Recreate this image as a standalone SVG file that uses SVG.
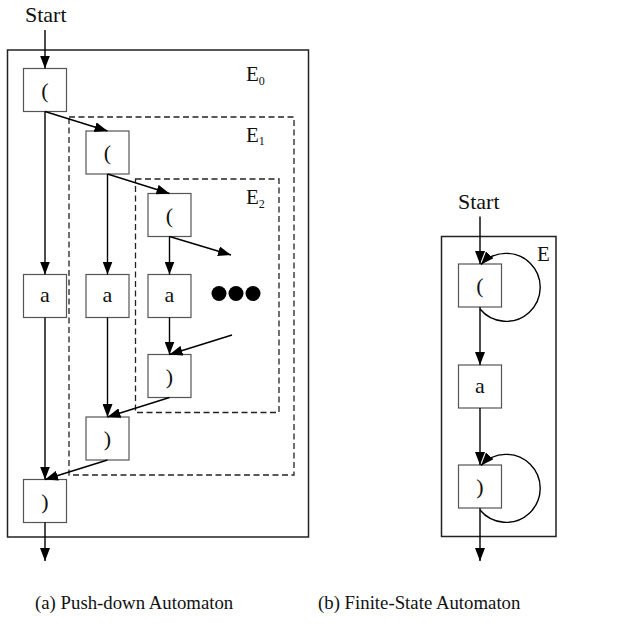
<svg xmlns="http://www.w3.org/2000/svg" width="621" height="625" viewBox="0 0 621 625">
<style>
  .frame{fill:none;stroke:#222;stroke-width:1.5}
  .dash{fill:none;stroke:#222;stroke-width:1.3;stroke-dasharray:6,3.5}
  .node{fill:#fff;stroke:#555;stroke-width:1.2}
  text{font-family:'Liberation Serif','DejaVu Serif',serif;fill:#111}
  .lbl{font-size:22px;text-anchor:middle}
  .edge{fill:none;stroke:#000;stroke-width:1.4}
</style>
<defs>
  <marker id="ah" markerUnits="userSpaceOnUse" markerWidth="14" markerHeight="10" refX="13" refY="5" orient="auto">
    <path d="M0,0 L13,5 L0,10 z" fill="#000"/>
  </marker>
</defs>
<rect width="621" height="625" fill="#fff"/>

<!-- (a) containers -->
<g id="E0">
  <rect class="frame" x="7.5" y="50" width="301" height="487"/>
  <text x="246" y="81" font-size="21">E<tspan font-size="12" dy="3.5">0</tspan></text>
</g>
<g id="E1">
  <rect class="dash" x="69" y="117" width="225" height="358"/>
  <text x="246" y="141.5" font-size="21">E<tspan font-size="12" dy="3.5">1</tspan></text>
</g>
<g id="E2">
  <rect class="dash" x="135.5" y="179" width="143.5" height="233.5"/>
  <text x="246" y="204" font-size="21">E<tspan font-size="12" dy="3.5">2</tspan></text>
</g>
<g id="start-a"><text x="25" y="22" font-size="22">Start</text></g>

<!-- (a) nodes -->
<g id="n1"><rect class="node" x="23.5" y="68.5" width="43" height="43"/><text class="lbl" x="45" y="97.5">(</text></g>
<g id="n2"><rect class="node" x="86" y="131" width="43" height="43"/><text class="lbl" x="107.5" y="160">(</text></g>
<g id="n3"><rect class="node" x="148" y="193.5" width="43" height="43"/><text class="lbl" x="169.5" y="222.5">(</text></g>
<g id="a1"><rect class="node" x="23.5" y="274.5" width="43" height="43"/><text class="lbl" x="45" y="302">a</text></g>
<g id="a2"><rect class="node" x="86" y="274.5" width="43" height="43"/><text class="lbl" x="107.5" y="302">a</text></g>
<g id="a3"><rect class="node" x="148" y="274.5" width="43" height="43"/><text class="lbl" x="169.5" y="302">a</text></g>
<g id="c3"><rect class="node" x="148" y="354.5" width="43" height="43"/><text class="lbl" x="169.5" y="383.5">)</text></g>
<g id="c2"><rect class="node" x="86" y="417" width="43" height="43"/><text class="lbl" x="107.5" y="446">)</text></g>
<g id="c1"><rect class="node" x="23.5" y="479.5" width="43" height="43"/><text class="lbl" x="45" y="508.5">)</text></g>
<g id="dots">
  <circle cx="219" cy="293.5" r="7.5" fill="#000"/>
  <circle cx="236" cy="293.5" r="7.5" fill="#000"/>
  <circle cx="253" cy="293.5" r="7.5" fill="#000"/>
</g>

<!-- (b) -->
<g id="E">
  <rect class="frame" x="441.5" y="236.5" width="114.5" height="300"/>
  <text x="537" y="261" font-size="21">E</text>
</g>
<g id="start-b"><text x="458" y="209" font-size="22">Start</text></g>
<g id="b1"><rect class="node" x="458.5" y="264" width="43" height="43"/><text class="lbl" x="480" y="293">(</text></g>
<g id="b2"><rect class="node" x="458.5" y="365" width="43" height="43"/><text class="lbl" x="480" y="393">a</text></g>
<g id="b3"><rect class="node" x="458.5" y="465" width="43" height="43"/><text class="lbl" x="480" y="494">)</text></g>

<g id="captions">
  <text x="35" y="609" font-size="18.8">(a) Push-down Automaton</text>
  <text x="318" y="609" font-size="18.8">(b) Finite-State Automaton</text>
</g>

<!-- connectors -->
<g id="connectors">
  <line class="edge" x1="45" y1="30" x2="45" y2="68.5" marker-end="url(#ah)"/>
  <line class="edge" x1="45" y1="111.5" x2="107.5" y2="131" marker-end="url(#ah)"/>
  <line class="edge" x1="107.5" y1="174" x2="169.5" y2="193.5" marker-end="url(#ah)"/>
  <line class="edge" x1="169.5" y1="236.5" x2="231" y2="255" marker-end="url(#ah)"/>
  <line class="edge" x1="45" y1="111.5" x2="45" y2="274.5" marker-end="url(#ah)"/>
  <line class="edge" x1="107.5" y1="174" x2="107.5" y2="274.5" marker-end="url(#ah)"/>
  <line class="edge" x1="169.5" y1="236.5" x2="169.5" y2="274.5" marker-end="url(#ah)"/>
  <line class="edge" x1="169.5" y1="317.5" x2="169.5" y2="354.5" marker-end="url(#ah)"/>
  <line class="edge" x1="232" y1="335" x2="169.5" y2="354.5" marker-end="url(#ah)"/>
  <line class="edge" x1="107.5" y1="317.5" x2="107.5" y2="417" marker-end="url(#ah)"/>
  <line class="edge" x1="169.5" y1="397.5" x2="107.5" y2="417" marker-end="url(#ah)"/>
  <line class="edge" x1="45" y1="317.5" x2="45" y2="479.5" marker-end="url(#ah)"/>
  <line class="edge" x1="107.5" y1="460" x2="45" y2="479.5" marker-end="url(#ah)"/>
  <line class="edge" x1="45" y1="522.5" x2="45" y2="561" marker-end="url(#ah)"/>

  <line class="edge" x1="480" y1="216.5" x2="480" y2="264" marker-end="url(#ah)"/>
  <path class="edge" d="M480,309 A34,34 0 1 0 481,264.5" marker-end="url(#ah)"/>
  <line class="edge" x1="480" y1="307" x2="480" y2="365" marker-end="url(#ah)"/>
  <line class="edge" x1="480" y1="408" x2="480" y2="465" marker-end="url(#ah)"/>
  <path class="edge" d="M480,510 A34,34 0 1 0 481,465.5" marker-end="url(#ah)"/>
  <line class="edge" x1="480" y1="508" x2="480" y2="561" marker-end="url(#ah)"/>
</g>
</svg>
